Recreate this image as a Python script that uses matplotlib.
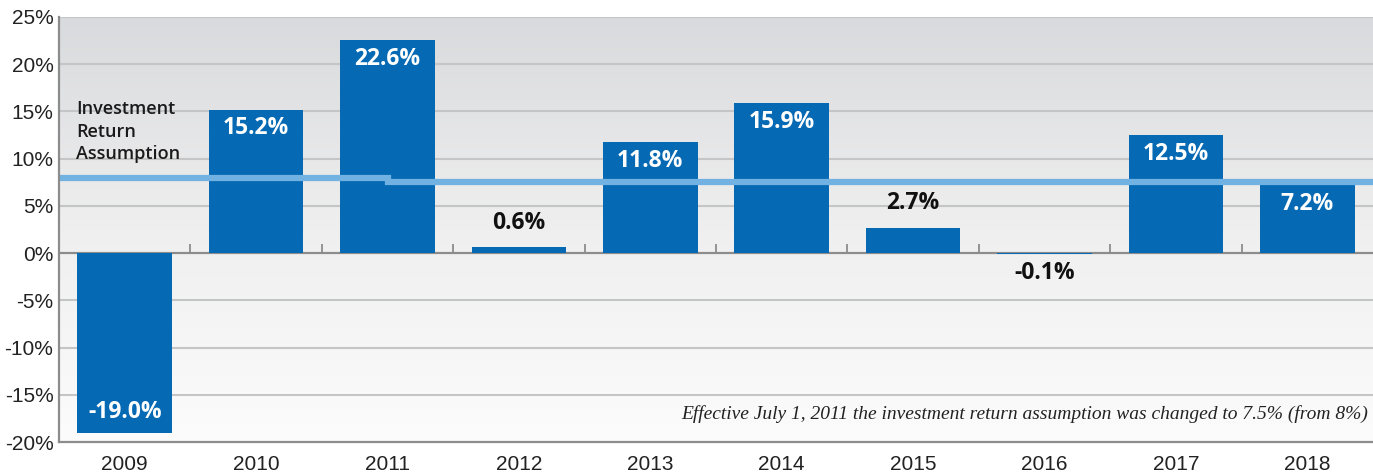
import numpy as np
import matplotlib
matplotlib.use('Agg')
import matplotlib.pyplot as plt
from matplotlib.colors import LinearSegmentedColormap

years = ['2009', '2010', '2011', '2012', '2013', '2014', '2015', '2016', '2017', '2018']
returns = [-19.0, 15.2, 22.6, 0.6, 11.8, 15.9, 2.7, -0.1, 12.5, 7.2]
label_text = ['-19.0%', '15.2%', '22.6%', '0.6%', '11.8%', '15.9%', '2.7%', '-0.1%', '12.5%', '7.2%']
# assumption: 8% until mid 2011, 7.5% after
assump_x = [-0.5, 2, 2, 9.5]
assump_y = [8.0, 8.0, 7.5, 7.5]
yticks = [-20, -15, -10, -5, 0, 5, 10, 15, 20, 25]

BAR = '#0569b3'
LINE = '#72b2e2'
GRID = '#c4c5c7'
SPINE = '#8c8c8c'

fig = plt.figure(figsize=(13.73, 4.76), dpi=100)
ax = fig.add_axes([59 / 1373, 1 - 442 / 476, 1 - 59 / 1373, (442 - 17) / 476])
ax.set_xlim(-0.5, 9.5)
ax.set_ylim(-20, 25)

# background gradient
cmap = LinearSegmentedColormap.from_list('bg', ['#fcfcfc', '#efefef', '#d9dadd'])
grad = np.linspace(0, 1, 256).reshape(-1, 1)
ax.imshow(grad, aspect='auto', cmap=cmap, extent=(-0.5, 9.5, -20, 25), origin='lower', zorder=0)

for y in yticks:
    if y not in (0, -20):
        ax.axhline(y, color=GRID, lw=1.5, zorder=1)

x = np.arange(len(years))
ax.bar(x, returns, width=0.72, color=BAR, zorder=3)

# zero line with category ticks
ax.axhline(0, color=SPINE, lw=1.6, zorder=2)
ax.vlines(np.arange(0.5, 9.5, 1), 0, 1.0, color=SPINE, lw=1.3, zorder=2)

ax.plot(assump_x, assump_y, color=LINE, lw=4.5, zorder=4, solid_joinstyle='miter')

lbl_font = ['Open Sans', 'DejaVu Sans']
for xi, v, t in zip(x, returns, label_text):
    if abs(v) >= 5:
        off = -2.0 if v > 0 else 2.2
        ax.text(xi, v + off, t, ha='center', va='center', color='white',
                fontsize=16.5, fontweight='bold', family=lbl_font, zorder=5)
    else:
        yy = v + 2.6 if v > 0 else v - 2.0
        ax.text(xi, yy, t, ha='center', va='center', color='#111111',
                fontsize=16.5, fontweight='bold', family=lbl_font, zorder=5)

ax.text(-0.37, 16.2, 'Investment\nReturn\nAssumption', ha='left', va='top',
        fontsize=13, fontweight='semibold', family=lbl_font, color='#1a1a1a',
        linespacing=1.32, zorder=5)

ax.text(9.46, -17.0, 'Effective July 1, 2011 the investment return assumption was changed to 7.5% (from 8%)',
        ha='right', va='center', fontsize=14, style='italic',
        family=['Liberation Serif', 'DejaVu Serif'], color='#222222', zorder=5)

tick_font = ['Liberation Sans', 'DejaVu Sans']
ax.set_xticks(x)
ax.set_xticklabels(years, family=tick_font, fontsize=15, color='#222222')
ax.set_yticks(yticks)
ax.set_yticklabels([f'{t}%' for t in yticks], family=tick_font, fontsize=15, color='#222222')
ax.tick_params(axis='both', length=0)
ax.tick_params(axis='x', pad=9)
ax.tick_params(axis='y', pad=4)

for s in ['top', 'right']:
    ax.spines[s].set_visible(False)
for s in ['left', 'bottom']:
    ax.spines[s].set_color(SPINE)
    ax.spines[s].set_linewidth(1.6)
    ax.spines[s].set_zorder(6)

fig.savefig('out.png', dpi=100, facecolor='white')
